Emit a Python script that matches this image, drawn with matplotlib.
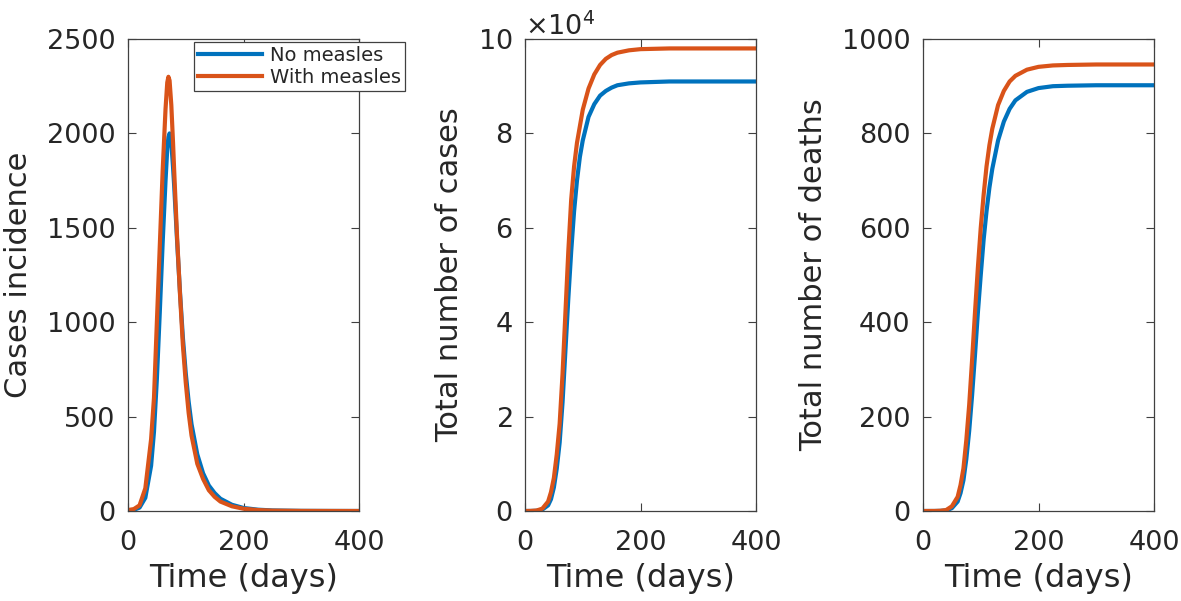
import matplotlib
matplotlib.use("agg")
import matplotlib.pyplot as plt

# colours (MATLAB default order)
BLUE = "#0072BD"
ORANGE = "#D95319"

labels = ["No measles", "With measles"]

# cases incidence per day
days_inc = [0, 10, 20, 30, 40, 45, 50, 55, 60, 65, 68, 70, 72, 75, 78, 80, 85, 90,
            95, 100, 105, 110, 120, 130, 140, 150, 160, 180, 200, 225, 250, 300, 350, 400]
inc_no = [3, 6, 18, 70, 240, 420, 700, 1050, 1420, 1750, 1920, 1980, 2000, 1950, 1820,
          1720, 1430, 1160, 920, 730, 580, 460, 300, 200, 135, 95, 65, 33, 16, 7, 3, 0.8, 0.3, 0.1]
inc_with = [5, 10, 30, 120, 380, 600, 1000, 1400, 1800, 2130, 2270, 2300, 2280, 2150, 1950,
            1800, 1450, 1150, 880, 680, 520, 400, 250, 170, 110, 75, 50, 25, 12, 5, 2, 0.5, 0.2, 0]

# cumulative cases
days_cum = [0, 10, 20, 30, 40, 45, 50, 55, 60, 65, 70, 75, 80, 85, 90, 95, 100,
            110, 120, 130, 140, 150, 160, 180, 200, 250, 300, 400]
cases_no = [0, 10, 50, 300, 1200, 2500, 5000, 9000, 14500, 23000, 34000, 45000, 55000,
            63500, 70000, 75000, 78500, 83500, 86200, 88000, 89000, 89700, 90200, 90600,
            90800, 91000, 91000, 91000]
cases_with = [0, 20, 100, 500, 2000, 4000, 7000, 12000, 18500, 29000, 42000, 55000, 66000,
              73000, 78000, 81500, 85000, 89500, 92500, 94500, 95800, 96600, 97100, 97600,
              97850, 98000, 98000, 98000]

# cumulative deaths
days_death = [0, 20, 30, 40, 50, 60, 65, 70, 75, 80, 85, 90, 95, 100, 105, 110, 115, 120,
              130, 140, 150, 160, 180, 200, 225, 250, 300, 400]
deaths_no = [0, 0.05, 0.3, 1.2, 6, 20, 38, 65, 110, 170, 245, 330, 420, 500, 575, 635, 685,
             725, 785, 825, 852, 870, 888, 896, 900, 901, 902, 902]
deaths_with = [0, 0.1, 0.5, 2, 10, 30, 55, 90, 150, 225, 320, 420, 515, 600, 670, 730, 775,
               810, 860, 890, 910, 922, 935, 941, 944, 945, 946, 946]

plt.rcParams["font.family"] = ["DejaVu Sans"]
plt.rcParams["mathtext.fontset"] = "dejavusans"

fig = plt.figure(figsize=(11.81, 6.01), dpi=100)
lefts = [128 / 1181, 525 / 1181, 923 / 1181]
bottom = 90 / 601
width = 231 / 1181
height = 472 / 601

panels = [
    (days_inc, inc_no, inc_with, "Cases incidence", [0, 500, 1000, 1500, 2000, 2500], 2500),
    (days_cum, cases_no, cases_with, "Total number of cases",
     [0, 20000, 40000, 60000, 80000, 100000], 100000),
    (days_death, deaths_no, deaths_with, "Total number of deaths",
     [0, 200, 400, 600, 800, 1000], 1000),
]

axes = []
for left, (x, y_no, y_with, ylab, yticks, ymax) in zip(lefts, panels):
    ax = fig.add_axes([left, bottom, width, height])
    l1, = ax.plot(x, y_no, color=BLUE, lw=3)
    l2, = ax.plot(x, y_with, color=ORANGE, lw=3)
    ax.set_xlim(0, 400)
    ax.set_ylim(0, ymax)
    ax.set_xticks([0, 200, 400])
    ax.set_yticks(yticks)
    ax.tick_params(direction="in", length=6, width=0.8, color="#404040",
                   top=True, right=True, labelsize=19.5, labelcolor="#262626")
    ax.tick_params(axis="y", pad=9)
    ax.tick_params(axis="x", pad=14)
    for s in ax.spines.values():
        s.set_color("#404040")
        s.set_linewidth(0.9)
    ax.set_xlabel("Time (days)", fontsize=23, color="#262626", labelpad=5)
    ax.set_ylabel(ylab, fontsize=22, color="#262626", labelpad=10)
    axes.append(ax)

# x10^4 multiplier on the cases panel
axes[1].ticklabel_format(axis="y", style="sci", scilimits=(4, 4), useMathText=True)
axes[1].yaxis.get_offset_text().set_fontsize(19.5)
axes[1].yaxis.get_offset_text().set_color("#262626")

leg = fig.legend([l1, l2], labels, loc="upper left",
                 bbox_to_anchor=(194 / 1181, 1 - 42 / 601), borderaxespad=0,
                 fontsize=14, handlelength=3.3, handletextpad=0.4,
                 borderpad=0.2, labelspacing=0.15, fancybox=False, framealpha=1)
leg.get_frame().set_edgecolor("#404040")
leg.get_frame().set_linewidth(0.9)
for t in leg.get_texts():
    t.set_color("#262626")

fig.savefig("out.png", dpi=100)
